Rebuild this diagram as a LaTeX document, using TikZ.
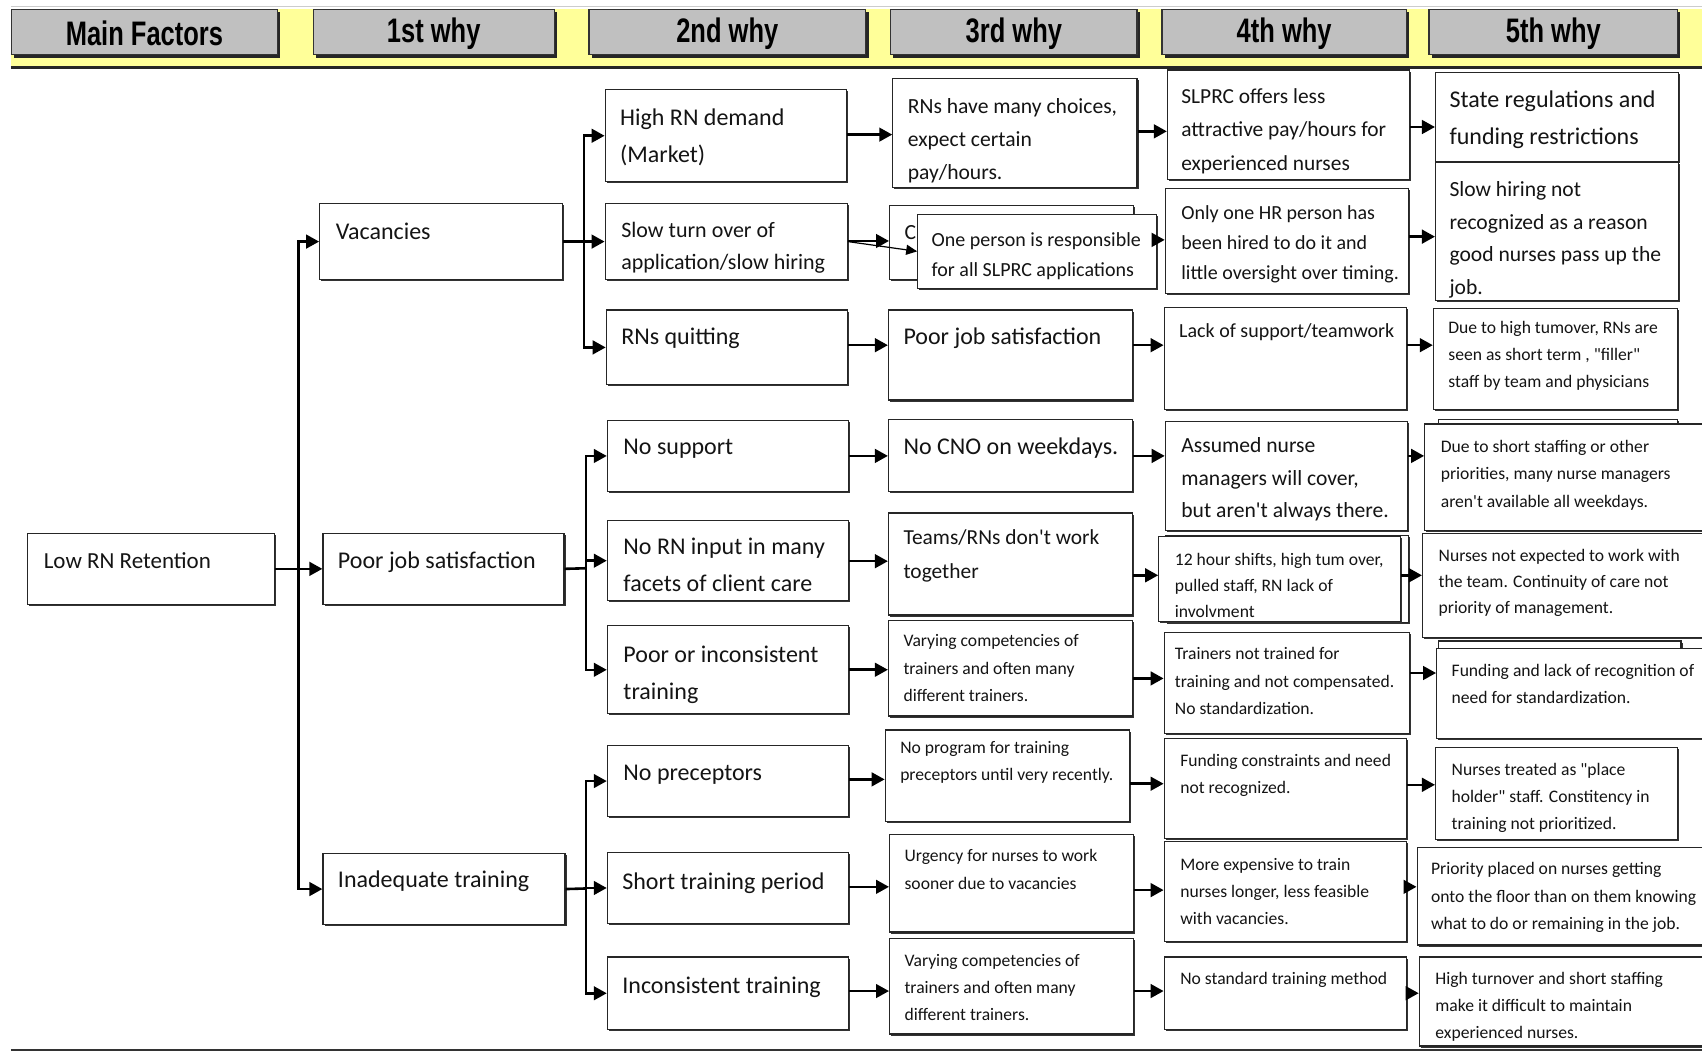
\documentclass[tikz,border=0pt]{standalone}
\usepackage{fontspec}
\setmainfont{Carlito}[Ligatures=TeXOff]
\newfontfamily\hdrfont[FakeStretch=0.75]{Liberation Sans}
\usetikzlibrary{arrows.meta,shadows}

\definecolor{hgray}{RGB}{192,192,192}
\definecolor{hyellow}{RGB}{255,255,153}

\newcommand\fs[2]{\fontsize{#1}{#2}\selectfont}
\newcommand\tl[1]{\begin{tabular}[t]{@{}l@{}}#1\end{tabular}}

% box from (x1,y1) to (x2,y2), text with first baseline at (tx,ty)
\newcommand\bx[9][]{%
  \node[box, anchor=north west, minimum width={(#5-#3)*0.54275pt},
        minimum height={(#6-#4)*0.54275pt}] (#2) at (#3,#4) {};
  \node[txt,#1, anchor=base west] (#2-t) at (#7,#8) {\tl{#9}};
}
% plain box partly hidden behind another one
\newcommand\bk[5]{%
  \node[box, anchor=north west, minimum width={(#4-#2)*0.54275pt},
        minimum height={(#5-#3)*0.54275pt}] (#1) at (#2,#3) {};
}
% header cell
\newcommand\hd[4]{%
  \node[hbox, anchor=north west, minimum width={(#3-#2)*0.54275pt},
        minimum height={42*0.54275pt}] (#1) at (#2,8) {};
  \node[htxt] (#1-t) at ([yshift=-0.6pt]#1.center) {#4};
}
% straight connector at height y
\newcommand\cn[3]{\draw[arr] (#1.east |- 0,#3) -- (#2.west |- 0,#3);}

\tikzset{
  box/.style={draw=black!85, line width=0.6pt, fill=white, inner sep=0pt,
    general shadow={shadow xshift=0.8pt, shadow yshift=-0.8pt, fill=black!80}},
  hbox/.style={draw=black!80, line width=0.6pt, fill=hgray, inner sep=0pt,
    general shadow={shadow xshift=1.4pt, shadow yshift=-1.4pt, fill=black!85}},
  htxt/.style={inner sep=0pt, font=\hdrfont\bfseries\fontsize{17}{20}\selectfont},
  txt/.style={inner sep=0pt, text=black!92},
  szA/.style={font=\fs{12}{18.5}},
  szL/.style={font=\fs{11.5}{16}},
  szB/.style={font=\fs{10.8}{16.3}},
  szT/.style={font=\fs{10.7}{16.8}},
  szC/.style={font=\fs{10}{15}},
  szS/.style={font=\fs{11}{15.7}},
  szE/.style={font=\fs{10}{15}},
  szD/.style={font=\fs{8.8}{13.6}},
  szF/.style={font=\fs{8.8}{13.1}},
  arr/.style={line width=1.3pt, -{Triangle[length=6.5pt,width=6.8pt]}},
  trunk/.style={line width=1.3pt},
  thinarr/.style={line width=0.6pt, -{Triangle[length=5.5pt,width=5pt]}},
}

\begin{document}
\begin{tikzpicture}[x=0.54275pt,y=-0.54275pt]
\useasboundingbox (0,0) rectangle (1568,970);
\clip (0,0) rectangle (1568,970);
\fill[white] (0,0) rectangle (1568,970);

% header band
\draw[black!20, line width=0.5pt] (10,6) -- (1568,6);
\fill[hyellow] (10,8) rectangle (1568,61);
\draw[black!85, line width=1.6pt] (10,62) -- (1568,62);
\hd{hmain}{10}{255}{Main Factors}
\hd{hone}{288}{510}{1st why}
\hd{htwo}{542}{797}{2nd why}
\hd{hthree}{820}{1047}{3rd why}
\hd{hfour}{1070}{1295}{4th why}
\hd{hfive}{1316}{1545}{5th why}
\draw[black!80, line width=1.1pt] (10,967) -- (1568,967);

% main factor and first why
\bx[szL]{lowrn}{25}{491}{252}{556}{40}{524}{Low RN Retention}
\bx[szA]{vac}{294}{187}{518}{257}{309}{221}{Vacancies}
\bx[szA]{pjsa}{297}{491}{519}{556}{311}{524}{Poor job satisfaction}
\bx[szA]{inad}{297}{786}{520}{851}{311}{818}{Inadequate training}

% second why
\bx[szA]{high}{557}{82}{779}{167}{571}{116}{High RN demand\\(Market)}
\bx[szS]{slow}{557}{187}{780}{257}{572}{219}{Slow turn over of\\application/slow hiring}
\bx[szA]{quit}{558}{285}{780}{354}{572}{317}{RNs quitting}
\bx[szA]{nosup}{559}{387}{781}{452}{574}{419}{No support}
\bx[szA]{noin}{559}{479}{781}{553}{574}{511}{No RN input in many\\facets of client care}
\bx[szA]{poor}{559}{576}{781}{657}{574}{610}{Poor or inconsistent\\training}
\bx[szA]{nopre}{559}{686}{781}{752}{574}{719}{No preceptors}
\bx[szA]{short}{559}{785}{781}{850}{573}{819}{Short training period}
\bx[szA]{incon}{559}{881}{781}{948}{573}{915}{Inconsistent training}

% third why
\bx[szB]{choices}{822}{72}{1047}{172}{836}{105}{RNs have many choices,\\expect certain\\pay/hours.}
\bx[szB]{cback}{819}{189}{1044}{257}{833}{221}{C}
\bx[szC]{oneper}{845}{197}{1065}{265}{858}{227}{One person is responsible\\for all SLPRC applications}
\bx[szA]{pjsb}{818}{285}{1043}{368}{832}{317}{Poor job satisfaction}
\bx[szA]{cno}{818}{386}{1043}{452}{832}{419}{No CNO on weekdays.}
\bx[szT]{teams}{818}{472}{1043}{566}{832}{502}{Teams/RNs don't work\\together}
\bx[szD]{varya}{818}{571}{1043}{659}{832}{596}{Varying competencies of\\trainers and often many\\different trainers.}
\bx[szD]{noprog}{815}{672}{1040}{756}{829}{694}{No program for training\\preceptors until very recently.}
\bx[szD]{urg}{819}{768}{1044}{858}{833}{794}{Urgency for nurses to work\\sooner due to vacancies}
\bx[szD]{varyb}{819}{864}{1044}{952}{833}{890}{Varying competencies of\\trainers and often many\\different trainers.}

% fourth why
\bx[szT]{slprc}{1075}{64}{1298}{165}{1088}{95}{SLPRC offers less\\attractive pay/hours for\\experienced nurses}
\bx[szC]{onehr}{1073}{173}{1297}{270}{1088}{202}{Only one HR person has\\been hired to do it and\\little oversight over timing.}
\bx[szE]{lack}{1072}{283}{1295}{377}{1086}{311}{Lack of support/teamwork}
\bx[szB]{assumed}{1073}{388}{1296}{488}{1088}{417}{Assumed nurse\\managers will cover,\\but aren't always there.}
\bk{twelveb}{1073}{493}{1297}{573}
\bx[szF]{twelve}{1067}{494}{1290}{572}{1082}{521}{12 hour shifts, high tum over,\\pulled staff, RN lack of\\involvment}
\bx[szD]{trainers}{1072}{582}{1298}{675}{1082}{608}{Trainers not trained for\\training and not compensated.\\No standardization.}
\bx[szD]{fundc}{1072}{680}{1295}{772}{1087}{706}{Funding constraints and need\\not recognized.}
\bx[szD]{moreexp}{1072}{775}{1295}{867}{1087}{802}{More expensive to train\\nurses longer, less feasible\\with vacancies.}
\bx[szD]{nostd}{1072}{881}{1295}{948}{1087}{907}{No standard training method}

% fifth why
\bx[szA]{state}{1322}{66}{1546}{148}{1335}{99}{State regulations and\\funding restrictions}
\bx[szB]{slowhire}{1322}{149}{1546}{276}{1335}{181}{Slow hiring not\\recognized as a reason\\good nurses pass up the\\job.}
\bx[szD]{duehigh}{1320}{284}{1545}{377}{1334}{307}{Due to high tumover, RNs are\\seen as short term , "filler"\\staff by team and physicians}
\bk{dueshortb}{1325}{386}{1545}{480}
\bx[szD]{dueshort}{1312}{390}{1575}{488}{1327}{417}{Due to short staffing or other\\priorities, many nurse managers\\aren't available all weekdays.}
\bx[szF]{notexp}{1310}{491}{1575}{587}{1325}{517}{Nurses not expected to work with\\the team. Continuity of care not\\priority of management.}
\bk{fundlb}{1325}{590}{1548}{680}
\bx[szD]{fundl}{1323}{597}{1575}{680}{1337}{623}{Funding and lack of recognition of\\need for standardization.}
\bx[szD]{treated}{1322}{688}{1545}{773}{1337}{714}{Nurses treated as "place\\holder" staff. Constitency in\\training not prioritized.}
\bx[szD]{priority}{1305}{780}{1575}{870}{1318}{806}{Priority placed on nurses getting\\onto the floor than on them knowing\\what to do or remaining in the job.}
\bx[szD]{hight}{1307}{881}{1575}{963}{1322}{907}{High turnover and short staffing\\make it difficult to maintain\\experienced nurses.}

% branching from main factor to first why
\coordinate (j0) at (275,523.5);
\draw[arr] (lowrn.east) -- (pjsa.west);
\draw[arr] (j0) |- (vac.west);
\draw[arr] (j0) |- (inad.west);

% branching from first why to second why
\coordinate (j1) at (538,222);
\draw[arr] (vac.east) -- (slow.west);
\draw[arr] (j1) |- (high.west);
\draw[arr] (j1) |- (quit.west);

\coordinate (j2) at (540,523.5);
\draw[trunk] (pjsa.east) -- (j2);
\draw[arr] (j2) |- (nosup.west);
\draw[arr] (j2) |- (noin.west);
\draw[arr] (j2) |- (poor.west);

\coordinate (j3) at (540,818.5);
\draw[trunk] (inad.east) -- (j3);
\draw[arr] (j3) |- (nopre.west);
\draw[arr] (j3) |- (short.west);
\draw[arr] (j3) |- (incon.west);

% second why to third why
\cn{high}{choices}{124}
\cn{slow}{cback}{222}
\draw[thinarr] (slow.east) -- (oneper.west);
\cn{quit}{pjsb}{318}
\cn{nosup}{cno}{420}
\cn{noin}{teams}{517}
\cn{poor}{varya}{617}
\cn{nopre}{noprog}{718}
\cn{short}{urg}{817}
\cn{incon}{varyb}{913}

% third why to fourth why
\cn{choices}{slprc}{121}
\cn{oneper}{onehr}{221}
\cn{pjsb}{lack}{318}
\cn{cno}{assumed}{420}
\cn{teams}{twelve}{530}
\cn{varya}{trainers}{625}
\cn{noprog}{fundc}{722}
\cn{urg}{moreexp}{820}
\cn{varyb}{nostd}{913}

% fourth why to fifth why
\cn{slprc}{state}{117}
\cn{onehr}{slowhire}{218}
\cn{lack}{duehigh}{318}
\cn{assumed}{dueshort}{420}
\cn{twelve}{notexp}{530}
\cn{trainers}{fundl}{620}
\cn{fundc}{treated}{723}
\cn{moreexp}{priority}{817}
\cn{nostd}{hight}{915}
\end{tikzpicture}
\end{document}
